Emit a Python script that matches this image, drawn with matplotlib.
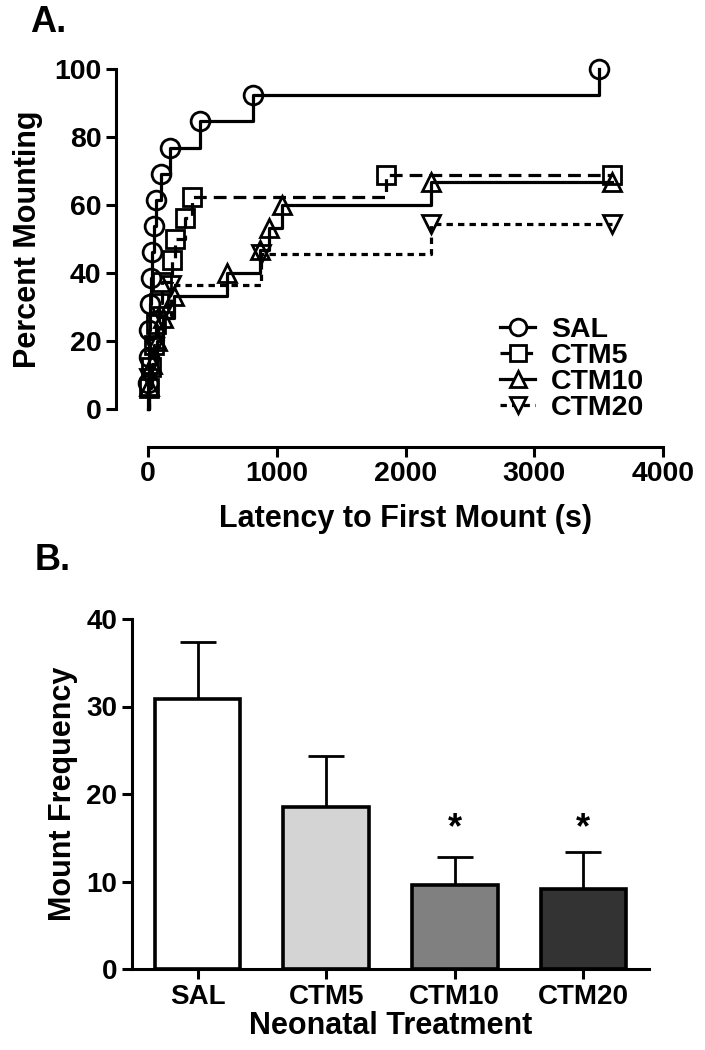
import matplotlib
matplotlib.use("Agg")
import matplotlib.pyplot as plt
import numpy as np

plt.rcParams['font.family'] = ['Liberation Sans', 'DejaVu Sans']
plt.rcParams['font.weight'] = 'bold'

# ---------------- Panel A data (Kaplan-Meier style) ----------------
groups = ["SAL", "CTM5", "CTM10", "CTM20"]
sal_times = [3, 6, 10, 15, 22, 30, 45, 60, 100, 170, 400, 815, 3500]
sal_pct = [7.7, 15.4, 23.1, 30.8, 38.5, 46.2, 53.8, 61.5, 69.2, 76.9, 84.6, 92.3, 100.0]
sal_censor = []

ctm5_times = [8, 25, 45, 65, 85, 110, 185, 210, 285, 340, 1850]
ctm5_pct = [6.25, 12.5, 18.75, 25.0, 31.25, 37.5, 43.75, 50.0, 56.25, 62.5, 68.75]
ctm5_censor = [3600]

ctm10_times = [5, 30, 70, 120, 205, 610, 870, 940, 1040, 2200]
ctm10_pct = [6.7, 13.3, 20.0, 26.7, 33.3, 40.0, 46.7, 53.3, 60.0, 66.7]
ctm10_censor = [3600]

ctm20_times = [10, 50, 100, 180, 880, 2200]
ctm20_pct = [9.1, 18.2, 27.3, 36.4, 45.5, 54.5]
ctm20_censor = [3600]

# ---------------- Panel B data ----------------
bar_labels = ["SAL", "CTM5", "CTM10", "CTM20"]
bar_means = [30.9, 18.5, 9.6, 9.2]
bar_sem = [6.5, 5.8, 3.25, 4.2]
bar_sig = [False, False, True, True]
sig_star_y = 16.0
bar_colors = ["#ffffff", "#d4d4d4", "#808080", "#333333"]

fig = plt.figure(figsize=(7.05, 10.5), dpi=100)

# ---------------- Panel A ----------------
axA = fig.add_axes([148 / 705, 1 - 409 / 1050, 515 / 705, 340 / 1050])
series = [
    (sal_times, sal_pct, sal_censor, 'o', (None, None)),
    (ctm5_times, ctm5_pct, ctm5_censor, 's', (4.0, 2.2)),
    (ctm10_times, ctm10_pct, ctm10_censor, '^', (None, None)),
    (ctm20_times, ctm20_pct, ctm20_censor, 'v', (2.0, 1.6)),
]
lw = 2.3
handles = []
for name, (t, p, c, mk, dash) in zip(groups, series):
    xs = [0] + list(t) + list(c)
    ys = [0] + list(p) + ([p[-1]] * len(c))
    ln, = axA.plot(xs, ys, color='black', lw=lw, drawstyle='steps-post', clip_on=False, zorder=2)
    if dash[0] is not None:
        ln.set_dashes(dash)
    axA.plot(list(t) + list(c), list(p) + [p[-1]] * len(c), linestyle='none', marker=mk,
             markersize=13.5, markerfacecolor='none', markeredgecolor='black',
             markeredgewidth=2.0, clip_on=False, zorder=3)
    h, = axA.plot([], [], color='black', lw=lw, marker=mk, markersize=12,
                  markerfacecolor='white', markeredgecolor='black', markeredgewidth=2.0)
    if dash[0] is not None:
        h.set_dashes(dash)
    handles.append(h)

axA.set_xlim(0, 4000)
axA.set_ylim(0, 100)
axA.set_xticks([0, 1000, 2000, 3000, 4000])
axA.set_yticks([0, 20, 40, 60, 80, 100])
for s in ['top', 'right']:
    axA.spines[s].set_visible(False)
axA.spines['left'].set_position(('outward', 23))
axA.spines['bottom'].set_position(('outward', 27))
for s in ['left', 'bottom']:
    axA.spines[s].set_linewidth(2.2)
axA.tick_params(axis='both', which='major', length=7, width=2.2, labelsize=20.5, direction='out')
axA.set_xlabel("Latency to First Mount (s)", fontsize=22, fontweight='bold', labelpad=12)
axA.set_ylabel("Percent Mounting", fontsize=22, fontweight='bold', labelpad=8)
leg = axA.legend(handles, groups, loc='upper left', bbox_to_anchor=(0.683, 0.272),
                 frameon=False, fontsize=20.5, handlelength=1.25, handletextpad=0.55,
                 labelspacing=0.0, borderpad=0, borderaxespad=0)
for txt in leg.get_texts():
    txt.set_fontweight('bold')

fig.text(30 / 705, 1 - 22 / 1050, "A.", fontsize=26, fontweight='bold', va='center', ha='left')

# ---------------- Panel B ----------------
axB = fig.add_axes([132 / 705, 1 - 969 / 1050, 517 / 705, 350 / 1050])
xpos = np.arange(len(bar_labels))
axB.bar(xpos, bar_means, width=0.665, color=bar_colors, edgecolor='black', linewidth=2.6, zorder=2)
axB.errorbar(xpos, bar_means, yerr=[np.zeros(len(bar_sem)), bar_sem], fmt='none',
             ecolor='black', elinewidth=2.0, capsize=13, capthick=2.0, zorder=1)
for x, sig in zip(xpos, bar_sig):
    if sig:
        axB.text(x, sig_star_y, "*", ha='center', va='center', fontsize=26, fontweight='bold')
axB.set_xlim(-0.51, 3.51)
axB.set_ylim(0, 40)
axB.set_yticks([0, 10, 20, 30, 40])
axB.set_xticks(xpos)
axB.set_xticklabels(bar_labels)
for s in ['top', 'right']:
    axB.spines[s].set_visible(False)
for s in ['left', 'bottom']:
    axB.spines[s].set_linewidth(2.2)
axB.tick_params(axis='both', which='major', length=7, width=2.2, labelsize=20, direction='out')
axB.set_xlabel("Neonatal Treatment", fontsize=22, fontweight='bold', labelpad=1)
axB.set_ylabel("Mount Frequency", fontsize=22, fontweight='bold', labelpad=6)

fig.text(35 / 705, 1 - 560 / 1050, "B.", fontsize=26, fontweight='bold', va='center', ha='left')

fig.savefig("out.png", dpi=100)
